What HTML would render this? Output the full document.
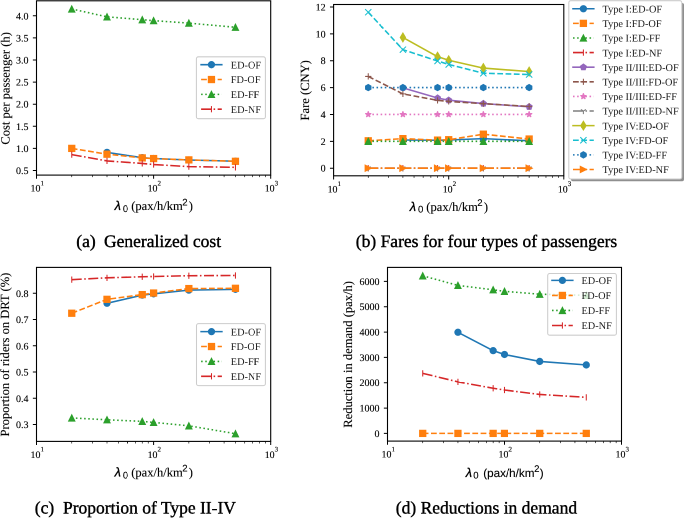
<!DOCTYPE html>
<html><head><meta charset="utf-8"><style>
html,body{margin:0;padding:0;background:#fff;width:685px;height:518px;overflow:hidden}
#w{position:absolute;left:0;top:0;width:1370px;height:1036px;transform-origin:0 0;transform:scale(0.5);will-change:transform}
svg{display:block}
text{text-rendering:geometricPrecision;fill:#000;stroke:#000;stroke-width:0.12px}
.cap{stroke-width:0.4px}
.leg{stroke-width:0;fill:#1a1a1a}
</style></head><body>
<div id="w"><svg width="1370" height="1036" viewBox="0 0 685 518">
<clipPath id="ca"><rect x="36.5" y="0.8" width="234.2" height="174.3"/></clipPath>
<g clip-path="url(#ca)">
<path d="M107 152.38 L142.25 157.68 L153.6 158.48 L188.85 160.02 L235.45 161.22" stroke="#1f77b4" stroke-width="1.56" fill="none" stroke-linejoin="round" stroke-linecap="square"/>
<circle cx="107" cy="152.38" r="3.12" fill="#1f77b4" stroke="#1f77b4" stroke-width="1.04"/>
<circle cx="142.25" cy="157.68" r="3.12" fill="#1f77b4" stroke="#1f77b4" stroke-width="1.04"/>
<circle cx="153.6" cy="158.48" r="3.12" fill="#1f77b4" stroke="#1f77b4" stroke-width="1.04"/>
<circle cx="188.85" cy="160.02" r="3.12" fill="#1f77b4" stroke="#1f77b4" stroke-width="1.04"/>
<circle cx="235.45" cy="161.22" r="3.12" fill="#1f77b4" stroke="#1f77b4" stroke-width="1.04"/>
<path d="M71.75 148.4 L107 154.19 L142.25 157.9 L153.6 158.57 L188.85 159.89 L235.45 161.31" stroke="#ff7f0e" stroke-width="1.56" fill="none" stroke-linejoin="round" stroke-linecap="butt" stroke-dasharray="5.77,2.5"/>
<rect x="68.63" y="145.28" width="6.24" height="6.24" fill="#ff7f0e" stroke="#ff7f0e" stroke-width="1.04" stroke-linejoin="miter"/>
<rect x="103.88" y="151.07" width="6.24" height="6.24" fill="#ff7f0e" stroke="#ff7f0e" stroke-width="1.04" stroke-linejoin="miter"/>
<rect x="139.13" y="154.78" width="6.24" height="6.24" fill="#ff7f0e" stroke="#ff7f0e" stroke-width="1.04" stroke-linejoin="miter"/>
<rect x="150.48" y="155.45" width="6.24" height="6.24" fill="#ff7f0e" stroke="#ff7f0e" stroke-width="1.04" stroke-linejoin="miter"/>
<rect x="185.73" y="156.77" width="6.24" height="6.24" fill="#ff7f0e" stroke="#ff7f0e" stroke-width="1.04" stroke-linejoin="miter"/>
<rect x="232.33" y="158.19" width="6.24" height="6.24" fill="#ff7f0e" stroke="#ff7f0e" stroke-width="1.04" stroke-linejoin="miter"/>
<path d="M71.75 8.99 L107 16.82 L142.25 19.69 L153.6 20.66 L188.85 23.09 L235.45 27.29" stroke="#2ca02c" stroke-width="1.56" fill="none" stroke-linejoin="round" stroke-linecap="butt" stroke-dasharray="1.56,2.57"/>
<polygon points="71.75,5.87 68.63,12.11 74.87,12.11" fill="#2ca02c" stroke="#2ca02c" stroke-width="1.04" stroke-linejoin="miter"/>
<polygon points="107,13.7 103.88,19.94 110.12,19.94" fill="#2ca02c" stroke="#2ca02c" stroke-width="1.04" stroke-linejoin="miter"/>
<polygon points="142.25,16.57 139.13,22.81 145.37,22.81" fill="#2ca02c" stroke="#2ca02c" stroke-width="1.04" stroke-linejoin="miter"/>
<polygon points="153.6,17.54 150.48,23.78 156.72,23.78" fill="#2ca02c" stroke="#2ca02c" stroke-width="1.04" stroke-linejoin="miter"/>
<polygon points="188.85,19.97 185.73,26.21 191.97,26.21" fill="#2ca02c" stroke="#2ca02c" stroke-width="1.04" stroke-linejoin="miter"/>
<polygon points="235.45,24.17 232.33,30.41 238.57,30.41" fill="#2ca02c" stroke="#2ca02c" stroke-width="1.04" stroke-linejoin="miter"/>
<path d="M71.75 154.59 L107 160.91 L142.25 163.43 L153.6 164.53 L188.85 166.61 L235.45 167.32" stroke="#d62728" stroke-width="1.56" fill="none" stroke-linejoin="round" stroke-linecap="butt" stroke-dasharray="9.98,2.5,1.56,2.5"/>
<path d="M71.75 151.47L71.75 157.71" stroke="#d62728" stroke-width="1.04" fill="none"/>
<path d="M107 157.79L107 164.03" stroke="#d62728" stroke-width="1.04" fill="none"/>
<path d="M142.25 160.31L142.25 166.55" stroke="#d62728" stroke-width="1.04" fill="none"/>
<path d="M153.6 161.41L153.6 167.65" stroke="#d62728" stroke-width="1.04" fill="none"/>
<path d="M188.85 163.49L188.85 169.73" stroke="#d62728" stroke-width="1.04" fill="none"/>
<path d="M235.45 164.2L235.45 170.44" stroke="#d62728" stroke-width="1.04" fill="none"/>
</g>
<path d="M36.5 175.1v3.64M153.6 175.1v3.64M270.7 175.1v3.64M36.5 170.5h-3.64M36.5 148.4h-3.64M36.5 126.3h-3.64M36.5 104.2h-3.64M36.5 82.1h-3.64M36.5 60h-3.64M36.5 37.9h-3.64M36.5 15.8h-3.64" stroke="#000" stroke-width="1.0" fill="none"/>
<path d="M71.75 175.1v2.08M92.37 175.1v2.08M107 175.1v2.08M118.35 175.1v2.08M127.62 175.1v2.08M135.46 175.1v2.08M142.25 175.1v2.08M148.24 175.1v2.08M188.85 175.1v2.08M209.47 175.1v2.08M224.1 175.1v2.08M235.45 175.1v2.08M244.72 175.1v2.08M252.56 175.1v2.08M259.35 175.1v2.08M265.34 175.1v2.08" stroke="#000" stroke-width="0.65" fill="none"/>
<rect x="36.5" y="0.8" width="234.2" height="174.3" fill="none" stroke="#000" stroke-width="1.1"/>
<text x="28.56" y="174" font-size="10.0" text-anchor="end" font-family="Liberation Serif">0.5</text>
<text x="28.56" y="151.9" font-size="10.0" text-anchor="end" font-family="Liberation Serif">1.0</text>
<text x="28.56" y="129.8" font-size="10.0" text-anchor="end" font-family="Liberation Serif">1.5</text>
<text x="28.56" y="107.7" font-size="10.0" text-anchor="end" font-family="Liberation Serif">2.0</text>
<text x="28.56" y="85.6" font-size="10.0" text-anchor="end" font-family="Liberation Serif">2.5</text>
<text x="28.56" y="63.5" font-size="10.0" text-anchor="end" font-family="Liberation Serif">3.0</text>
<text x="28.56" y="41.4" font-size="10.0" text-anchor="end" font-family="Liberation Serif">3.5</text>
<text x="28.56" y="19.3" font-size="10.0" text-anchor="end" font-family="Liberation Serif">4.0</text>
<text x="35.45" y="191.7" font-size="9.9" text-anchor="middle" font-family="Liberation Serif">10</text>
<text x="40.45" y="185.4" font-size="7.0" text-anchor="start" font-family="Liberation Serif">1</text>
<text x="152.55" y="191.7" font-size="9.9" text-anchor="middle" font-family="Liberation Serif">10</text>
<text x="157.55" y="185.4" font-size="7.0" text-anchor="start" font-family="Liberation Serif">2</text>
<text x="269.65" y="191.7" font-size="9.9" text-anchor="middle" font-family="Liberation Serif">10</text>
<text x="274.65" y="185.4" font-size="7.0" text-anchor="start" font-family="Liberation Serif">3</text>
<text x="114.6" y="210.1" font-size="12.8" font-family="Liberation Sans" font-style="italic" style="stroke-width:0.3px">λ</text>
<text x="122.9" y="212" font-size="9.6" font-family="Liberation Sans" stroke="#000" stroke-width="0.1">0</text>
<text x="131.2" y="210.1" font-size="12.55" font-family="Liberation Serif">(pax/h/km</text>
<text x="182.2" y="205.3" font-size="9.6" font-family="Liberation Sans" stroke="#000" stroke-width="0.1">2</text>
<text x="188.8" y="210.1" font-size="12.55" font-family="Liberation Serif">)</text>
<text transform="translate(9.4 88.4) rotate(-90)" x="0" y="0" font-size="12.55" text-anchor="middle" font-family="Liberation Serif">Cost per passenger (h)</text>
<rect x="196.4" y="56.8" width="69" height="61.9" rx="2" fill="#fff" fill-opacity="0.8" stroke="#ccc" stroke-width="1.04"/>
<path d="M201.1 64.7 L221.8 64.7" stroke="#1f77b4" stroke-width="1.56" fill="none" stroke-linejoin="round" stroke-linecap="square"/>
<circle cx="211.45" cy="64.7" r="3.12" fill="#1f77b4" stroke="#1f77b4" stroke-width="1.04"/>
<text x="230.8" y="68.4" font-size="10.3" text-anchor="start" font-family="Liberation Serif" class="leg">ED-OF</text>
<path d="M201.1 79.53 L221.8 79.53" stroke="#ff7f0e" stroke-width="1.56" fill="none" stroke-linejoin="round" stroke-linecap="butt" stroke-dasharray="5.77,2.5"/>
<rect x="208.33" y="76.41" width="6.24" height="6.24" fill="#ff7f0e" stroke="#ff7f0e" stroke-width="1.04" stroke-linejoin="miter"/>
<text x="230.8" y="83.23" font-size="10.3" text-anchor="start" font-family="Liberation Serif" class="leg">FD-OF</text>
<path d="M201.1 94.36 L221.8 94.36" stroke="#2ca02c" stroke-width="1.56" fill="none" stroke-linejoin="round" stroke-linecap="butt" stroke-dasharray="1.56,2.57"/>
<polygon points="211.45,91.24 208.33,97.48 214.57,97.48" fill="#2ca02c" stroke="#2ca02c" stroke-width="1.04" stroke-linejoin="miter"/>
<text x="230.8" y="98.06" font-size="10.3" text-anchor="start" font-family="Liberation Serif" class="leg">ED-FF</text>
<path d="M201.1 109.19 L221.8 109.19" stroke="#d62728" stroke-width="1.56" fill="none" stroke-linejoin="round" stroke-linecap="butt" stroke-dasharray="9.98,2.5,1.56,2.5"/>
<path d="M211.45 106.07L211.45 112.31" stroke="#d62728" stroke-width="1.04" fill="none"/>
<text x="230.8" y="112.89" font-size="10.3" text-anchor="start" font-family="Liberation Serif" class="leg">ED-NF</text>
<clipPath id="cb"><rect x="333.6" y="4.5" width="230.2" height="171.3"/></clipPath>
<g clip-path="url(#cb)">
<path d="M402.9 139.98 L437.55 140.25 L448.7 139.98 L483.35 138.64 L529.15 140.79" stroke="#1f77b4" stroke-width="1.56" fill="none" stroke-linejoin="round" stroke-linecap="square"/>
<circle cx="402.9" cy="139.98" r="3.12" fill="#1f77b4" stroke="#1f77b4" stroke-width="1.04"/>
<circle cx="437.55" cy="140.25" r="3.12" fill="#1f77b4" stroke="#1f77b4" stroke-width="1.04"/>
<circle cx="448.7" cy="139.98" r="3.12" fill="#1f77b4" stroke="#1f77b4" stroke-width="1.04"/>
<circle cx="483.35" cy="138.64" r="3.12" fill="#1f77b4" stroke="#1f77b4" stroke-width="1.04"/>
<circle cx="529.15" cy="140.79" r="3.12" fill="#1f77b4" stroke="#1f77b4" stroke-width="1.04"/>
<path d="M368.25 140.79 L402.9 138.64 L437.55 140.12 L448.7 139.71 L483.35 134.2 L529.15 139.04" stroke="#ff7f0e" stroke-width="1.56" fill="none" stroke-linejoin="round" stroke-linecap="butt" stroke-dasharray="5.77,2.5"/>
<rect x="365.13" y="137.67" width="6.24" height="6.24" fill="#ff7f0e" stroke="#ff7f0e" stroke-width="1.04" stroke-linejoin="miter"/>
<rect x="399.78" y="135.52" width="6.24" height="6.24" fill="#ff7f0e" stroke="#ff7f0e" stroke-width="1.04" stroke-linejoin="miter"/>
<rect x="434.43" y="137" width="6.24" height="6.24" fill="#ff7f0e" stroke="#ff7f0e" stroke-width="1.04" stroke-linejoin="miter"/>
<rect x="445.58" y="136.59" width="6.24" height="6.24" fill="#ff7f0e" stroke="#ff7f0e" stroke-width="1.04" stroke-linejoin="miter"/>
<rect x="480.23" y="131.08" width="6.24" height="6.24" fill="#ff7f0e" stroke="#ff7f0e" stroke-width="1.04" stroke-linejoin="miter"/>
<rect x="526.03" y="135.92" width="6.24" height="6.24" fill="#ff7f0e" stroke="#ff7f0e" stroke-width="1.04" stroke-linejoin="miter"/>
<path d="M368.25 141.32 L402.9 141.32 L437.55 141.32 L448.7 141.32 L483.35 141.32 L529.15 141.32" stroke="#2ca02c" stroke-width="1.56" fill="none" stroke-linejoin="round" stroke-linecap="butt" stroke-dasharray="1.56,2.57"/>
<polygon points="368.25,138.2 365.13,144.44 371.37,144.44" fill="#2ca02c" stroke="#2ca02c" stroke-width="1.04" stroke-linejoin="miter"/>
<polygon points="402.9,138.2 399.78,144.44 406.02,144.44" fill="#2ca02c" stroke="#2ca02c" stroke-width="1.04" stroke-linejoin="miter"/>
<polygon points="437.55,138.2 434.43,144.44 440.67,144.44" fill="#2ca02c" stroke="#2ca02c" stroke-width="1.04" stroke-linejoin="miter"/>
<polygon points="448.7,138.2 445.58,144.44 451.82,144.44" fill="#2ca02c" stroke="#2ca02c" stroke-width="1.04" stroke-linejoin="miter"/>
<polygon points="483.35,138.2 480.23,144.44 486.47,144.44" fill="#2ca02c" stroke="#2ca02c" stroke-width="1.04" stroke-linejoin="miter"/>
<polygon points="529.15,138.2 526.03,144.44 532.27,144.44" fill="#2ca02c" stroke="#2ca02c" stroke-width="1.04" stroke-linejoin="miter"/>
<path d="M368.25 168.2 L402.9 168.2 L437.55 168.2 L448.7 168.2 L483.35 168.2 L529.15 168.2" stroke="#d62728" stroke-width="1.56" fill="none" stroke-linejoin="round" stroke-linecap="butt" stroke-dasharray="9.98,2.5,1.56,2.5"/>
<path d="M368.25 165.08L368.25 171.32" stroke="#d62728" stroke-width="1.04" fill="none"/>
<path d="M402.9 165.08L402.9 171.32" stroke="#d62728" stroke-width="1.04" fill="none"/>
<path d="M437.55 165.08L437.55 171.32" stroke="#d62728" stroke-width="1.04" fill="none"/>
<path d="M448.7 165.08L448.7 171.32" stroke="#d62728" stroke-width="1.04" fill="none"/>
<path d="M483.35 165.08L483.35 171.32" stroke="#d62728" stroke-width="1.04" fill="none"/>
<path d="M529.15 165.08L529.15 171.32" stroke="#d62728" stroke-width="1.04" fill="none"/>
<path d="M402.9 87.84 L437.55 98.06 L448.7 100.21 L483.35 103.57 L529.15 106.79" stroke="#9467bd" stroke-width="1.56" fill="none" stroke-linejoin="round" stroke-linecap="square"/>
<polygon points="402.9,84.72 399.93,86.88 401.06,90.37 404.73,90.37 405.86,86.88" fill="#9467bd" stroke="#9467bd" stroke-width="1.04" stroke-linejoin="miter"/>
<polygon points="437.55,94.94 434.58,97.09 435.71,100.58 439.38,100.58 440.51,97.09" fill="#9467bd" stroke="#9467bd" stroke-width="1.04" stroke-linejoin="miter"/>
<polygon points="448.7,97.09 445.73,99.24 446.87,102.73 450.53,102.73 451.67,99.24" fill="#9467bd" stroke="#9467bd" stroke-width="1.04" stroke-linejoin="miter"/>
<polygon points="483.35,100.45 480.38,102.6 481.51,106.09 485.18,106.09 486.32,102.6" fill="#9467bd" stroke="#9467bd" stroke-width="1.04" stroke-linejoin="miter"/>
<polygon points="529.15,103.67 526.18,105.83 527.32,109.31 530.99,109.31 532.12,105.83" fill="#9467bd" stroke="#9467bd" stroke-width="1.04" stroke-linejoin="miter"/>
<path d="M368.25 76.42 L402.9 93.89 L437.55 100.34 L448.7 101.42 L483.35 103.7 L529.15 106.39" stroke="#8c564b" stroke-width="1.56" fill="none" stroke-linejoin="round" stroke-linecap="butt" stroke-dasharray="5.77,2.5"/>
<path d="M365.13 76.42L371.37 76.42M368.25 73.3L368.25 79.54" stroke="#8c564b" stroke-width="1.04" fill="none"/>
<path d="M399.78 93.89L406.02 93.89M402.9 90.77L402.9 97.01" stroke="#8c564b" stroke-width="1.04" fill="none"/>
<path d="M434.43 100.34L440.67 100.34M437.55 97.22L437.55 103.46" stroke="#8c564b" stroke-width="1.04" fill="none"/>
<path d="M445.58 101.42L451.82 101.42M448.7 98.3L448.7 104.54" stroke="#8c564b" stroke-width="1.04" fill="none"/>
<path d="M480.23 103.7L486.47 103.7M483.35 100.58L483.35 106.82" stroke="#8c564b" stroke-width="1.04" fill="none"/>
<path d="M526.03 106.39L532.27 106.39M529.15 103.27L529.15 109.51" stroke="#8c564b" stroke-width="1.04" fill="none"/>
<path d="M368.25 114.45 L402.9 114.45 L437.55 114.45 L448.7 114.45 L483.35 114.45 L529.15 114.45" stroke="#e377c2" stroke-width="1.56" fill="none" stroke-linejoin="round" stroke-linecap="butt" stroke-dasharray="1.56,2.57"/>
<polygon points="368.25,111.33 367.55,113.49 365.28,113.49 367.12,114.82 366.41,116.97 368.25,115.64 370.08,116.97 369.38,114.82 371.22,113.49 368.95,113.49" fill="#e377c2" stroke="#e377c2" stroke-width="1.04" stroke-linejoin="bevel"/>
<polygon points="402.9,111.33 402.2,113.49 399.93,113.49 401.76,114.82 401.06,116.97 402.9,115.64 404.73,116.97 404.03,114.82 405.86,113.49 403.6,113.49" fill="#e377c2" stroke="#e377c2" stroke-width="1.04" stroke-linejoin="bevel"/>
<polygon points="437.55,111.33 436.85,113.49 434.58,113.49 436.41,114.82 435.71,116.97 437.55,115.64 439.38,116.97 438.68,114.82 440.51,113.49 438.25,113.49" fill="#e377c2" stroke="#e377c2" stroke-width="1.04" stroke-linejoin="bevel"/>
<polygon points="448.7,111.33 448,113.49 445.73,113.49 447.57,114.82 446.87,116.97 448.7,115.64 450.53,116.97 449.83,114.82 451.67,113.49 449.4,113.49" fill="#e377c2" stroke="#e377c2" stroke-width="1.04" stroke-linejoin="bevel"/>
<polygon points="483.35,111.33 482.65,113.49 480.38,113.49 482.22,114.82 481.51,116.97 483.35,115.64 485.18,116.97 484.48,114.82 486.32,113.49 484.05,113.49" fill="#e377c2" stroke="#e377c2" stroke-width="1.04" stroke-linejoin="bevel"/>
<polygon points="529.15,111.33 528.45,113.49 526.18,113.49 528.02,114.82 527.32,116.97 529.15,115.64 530.99,116.97 530.28,114.82 532.12,113.49 529.85,113.49" fill="#e377c2" stroke="#e377c2" stroke-width="1.04" stroke-linejoin="bevel"/>
<path d="M368.25 168.2 L402.9 168.2 L437.55 168.2 L448.7 168.2 L483.35 168.2 L529.15 168.2" stroke="#7f7f7f" stroke-width="1.56" fill="none" stroke-linejoin="round" stroke-linecap="butt" stroke-dasharray="9.98,2.5,1.56,2.5"/>
<path d="M368.25 168.2L368.25 171.32M368.25 168.2L370.74 166.64M368.25 168.2L365.75 166.64" stroke="#7f7f7f" stroke-width="1.04" fill="none"/>
<path d="M402.9 168.2L402.9 171.32M402.9 168.2L405.39 166.64M402.9 168.2L400.4 166.64" stroke="#7f7f7f" stroke-width="1.04" fill="none"/>
<path d="M437.55 168.2L437.55 171.32M437.55 168.2L440.04 166.64M437.55 168.2L435.05 166.64" stroke="#7f7f7f" stroke-width="1.04" fill="none"/>
<path d="M448.7 168.2L448.7 171.32M448.7 168.2L451.2 166.64M448.7 168.2L446.2 166.64" stroke="#7f7f7f" stroke-width="1.04" fill="none"/>
<path d="M483.35 168.2L483.35 171.32M483.35 168.2L485.84 166.64M483.35 168.2L480.85 166.64" stroke="#7f7f7f" stroke-width="1.04" fill="none"/>
<path d="M529.15 168.2L529.15 171.32M529.15 168.2L531.65 166.64M529.15 168.2L526.66 166.64" stroke="#7f7f7f" stroke-width="1.04" fill="none"/>
<path d="M402.9 37.45 L437.55 56.67 L448.7 60.3 L483.35 68.09 L529.15 71.58" stroke="#bcbd22" stroke-width="1.56" fill="none" stroke-linejoin="round" stroke-linecap="square"/>
<polygon points="402.9,33.04 405.54,37.45 402.9,41.87 400.25,37.45" fill="#bcbd22" stroke="#bcbd22" stroke-width="1.04" stroke-linejoin="miter"/>
<polygon points="437.55,52.26 440.19,56.67 437.55,61.08 434.9,56.67" fill="#bcbd22" stroke="#bcbd22" stroke-width="1.04" stroke-linejoin="miter"/>
<polygon points="448.7,55.88 451.35,60.3 448.7,64.71 446.05,60.3" fill="#bcbd22" stroke="#bcbd22" stroke-width="1.04" stroke-linejoin="miter"/>
<polygon points="483.35,63.68 486,68.09 483.35,72.5 480.7,68.09" fill="#bcbd22" stroke="#bcbd22" stroke-width="1.04" stroke-linejoin="miter"/>
<polygon points="529.15,67.17 531.8,71.58 529.15,76 526.5,71.58" fill="#bcbd22" stroke="#bcbd22" stroke-width="1.04" stroke-linejoin="miter"/>
<path d="M368.25 12.19 L402.9 49.68 L437.55 60.97 L448.7 64.46 L483.35 73.2 L529.15 74.54" stroke="#17becf" stroke-width="1.56" fill="none" stroke-linejoin="round" stroke-linecap="butt" stroke-dasharray="5.77,2.5"/>
<path d="M365.13 9.07L371.37 15.31M365.13 15.31L371.37 9.07" stroke="#17becf" stroke-width="1.04" fill="none"/>
<path d="M399.78 46.56L406.02 52.8M399.78 52.8L406.02 46.56" stroke="#17becf" stroke-width="1.04" fill="none"/>
<path d="M434.43 57.85L440.67 64.09M434.43 64.09L440.67 57.85" stroke="#17becf" stroke-width="1.04" fill="none"/>
<path d="M445.58 61.34L451.82 67.58M445.58 67.58L451.82 61.34" stroke="#17becf" stroke-width="1.04" fill="none"/>
<path d="M480.23 70.08L486.47 76.32M480.23 76.32L486.47 70.08" stroke="#17becf" stroke-width="1.04" fill="none"/>
<path d="M526.03 71.42L532.27 77.66M526.03 77.66L532.27 71.42" stroke="#17becf" stroke-width="1.04" fill="none"/>
<path d="M368.25 87.58 L402.9 87.58 L437.55 87.58 L448.7 87.58 L483.35 87.58 L529.15 87.58" stroke="#1f77b4" stroke-width="1.56" fill="none" stroke-linejoin="round" stroke-linecap="butt" stroke-dasharray="1.56,2.57"/>
<polygon points="368.25,84.45 365.55,86.02 365.55,89.14 368.25,90.7 370.95,89.14 370.95,86.02" fill="#1f77b4" stroke="#1f77b4" stroke-width="1.04" stroke-linejoin="miter"/>
<polygon points="402.9,84.45 400.2,86.02 400.2,89.14 402.9,90.7 405.6,89.14 405.6,86.02" fill="#1f77b4" stroke="#1f77b4" stroke-width="1.04" stroke-linejoin="miter"/>
<polygon points="437.55,84.45 434.84,86.02 434.84,89.14 437.55,90.7 440.25,89.14 440.25,86.02" fill="#1f77b4" stroke="#1f77b4" stroke-width="1.04" stroke-linejoin="miter"/>
<polygon points="448.7,84.45 446,86.02 446,89.14 448.7,90.7 451.4,89.14 451.4,86.02" fill="#1f77b4" stroke="#1f77b4" stroke-width="1.04" stroke-linejoin="miter"/>
<polygon points="483.35,84.45 480.65,86.02 480.65,89.14 483.35,90.7 486.05,89.14 486.05,86.02" fill="#1f77b4" stroke="#1f77b4" stroke-width="1.04" stroke-linejoin="miter"/>
<polygon points="529.15,84.45 526.45,86.02 526.45,89.14 529.15,90.7 531.85,89.14 531.85,86.02" fill="#1f77b4" stroke="#1f77b4" stroke-width="1.04" stroke-linejoin="miter"/>
<path d="M368.25 168.2 L402.9 168.2 L437.55 168.2 L448.7 168.2 L483.35 168.2 L529.15 168.2" stroke="#ff7f0e" stroke-width="1.56" fill="none" stroke-linejoin="round" stroke-linecap="butt" stroke-dasharray="9.98,2.5,1.56,2.5"/>
<polygon points="371.37,168.2 365.13,165.08 365.13,171.32" fill="#ff7f0e" stroke="#ff7f0e" stroke-width="1.04" stroke-linejoin="miter"/>
<polygon points="406.02,168.2 399.78,165.08 399.78,171.32" fill="#ff7f0e" stroke="#ff7f0e" stroke-width="1.04" stroke-linejoin="miter"/>
<polygon points="440.67,168.2 434.43,165.08 434.43,171.32" fill="#ff7f0e" stroke="#ff7f0e" stroke-width="1.04" stroke-linejoin="miter"/>
<polygon points="451.82,168.2 445.58,165.08 445.58,171.32" fill="#ff7f0e" stroke="#ff7f0e" stroke-width="1.04" stroke-linejoin="miter"/>
<polygon points="486.47,168.2 480.23,165.08 480.23,171.32" fill="#ff7f0e" stroke="#ff7f0e" stroke-width="1.04" stroke-linejoin="miter"/>
<polygon points="532.27,168.2 526.03,165.08 526.03,171.32" fill="#ff7f0e" stroke="#ff7f0e" stroke-width="1.04" stroke-linejoin="miter"/>
</g>
<path d="M333.6 175.8v3.64M448.7 175.8v3.64M563.8 175.8v3.64M333.6 168.2h-3.64M333.6 141.32h-3.64M333.6 114.45h-3.64M333.6 87.58h-3.64M333.6 60.7h-3.64M333.6 33.83h-3.64M333.6 6.95h-3.64" stroke="#000" stroke-width="1.0" fill="none"/>
<path d="M368.25 175.8v2.08M388.52 175.8v2.08M402.9 175.8v2.08M414.05 175.8v2.08M423.17 175.8v2.08M430.87 175.8v2.08M437.55 175.8v2.08M443.43 175.8v2.08M483.35 175.8v2.08M503.62 175.8v2.08M518 175.8v2.08M529.15 175.8v2.08M538.27 175.8v2.08M545.97 175.8v2.08M552.65 175.8v2.08M558.53 175.8v2.08" stroke="#000" stroke-width="0.65" fill="none"/>
<rect x="333.6" y="4.5" width="230.2" height="171.3" fill="none" stroke="#000" stroke-width="1.1"/>
<text x="325.66" y="171.7" font-size="10.0" text-anchor="end" font-family="Liberation Serif">0</text>
<text x="325.66" y="144.82" font-size="10.0" text-anchor="end" font-family="Liberation Serif">2</text>
<text x="325.66" y="117.95" font-size="10.0" text-anchor="end" font-family="Liberation Serif">4</text>
<text x="325.66" y="91.08" font-size="10.0" text-anchor="end" font-family="Liberation Serif">6</text>
<text x="325.66" y="64.2" font-size="10.0" text-anchor="end" font-family="Liberation Serif">8</text>
<text x="325.66" y="37.33" font-size="10.0" text-anchor="end" font-family="Liberation Serif">10</text>
<text x="325.66" y="10.45" font-size="10.0" text-anchor="end" font-family="Liberation Serif">12</text>
<text x="332.55" y="192.4" font-size="9.9" text-anchor="middle" font-family="Liberation Serif">10</text>
<text x="337.55" y="186.1" font-size="7.0" text-anchor="start" font-family="Liberation Serif">1</text>
<text x="447.65" y="192.4" font-size="9.9" text-anchor="middle" font-family="Liberation Serif">10</text>
<text x="452.65" y="186.1" font-size="7.0" text-anchor="start" font-family="Liberation Serif">2</text>
<text x="562.75" y="192.4" font-size="9.9" text-anchor="middle" font-family="Liberation Serif">10</text>
<text x="567.75" y="186.1" font-size="7.0" text-anchor="start" font-family="Liberation Serif">3</text>
<text x="409.7" y="210.8" font-size="12.8" font-family="Liberation Sans" font-style="italic" style="stroke-width:0.3px">λ</text>
<text x="418" y="212.7" font-size="9.6" font-family="Liberation Sans" stroke="#000" stroke-width="0.1">0</text>
<text x="426.3" y="210.8" font-size="12.55" font-family="Liberation Serif">(pax/h/km</text>
<text x="477.3" y="206" font-size="9.6" font-family="Liberation Sans" stroke="#000" stroke-width="0.1">2</text>
<text x="483.9" y="210.8" font-size="12.55" font-family="Liberation Serif">)</text>
<text transform="translate(308.8 90.3) rotate(-90)" x="0" y="0" font-size="12.55" text-anchor="middle" font-family="Liberation Serif">Fare (CNY)</text>
<rect x="571" y="3" width="113" height="178.3" rx="2" fill="#333" fill-opacity="0.55"/>
<rect x="568.8" y="0.7" width="113" height="178.3" rx="2" fill="#fff" fill-opacity="1" stroke="#ccc" stroke-width="1.04"/>
<path d="M573 8.76 L593.8 8.76" stroke="#1f77b4" stroke-width="1.56" fill="none" stroke-linejoin="round" stroke-linecap="square"/>
<circle cx="583.4" cy="8.76" r="3.12" fill="#1f77b4" stroke="#1f77b4" stroke-width="1.04"/>
<text x="602.5" y="12.46" font-size="10.3" text-anchor="start" font-family="Liberation Serif" class="leg">Type I:ED-OF</text>
<path d="M573 23.37 L593.8 23.37" stroke="#ff7f0e" stroke-width="1.56" fill="none" stroke-linejoin="round" stroke-linecap="butt" stroke-dasharray="5.77,2.5"/>
<rect x="580.28" y="20.25" width="6.24" height="6.24" fill="#ff7f0e" stroke="#ff7f0e" stroke-width="1.04" stroke-linejoin="miter"/>
<text x="602.5" y="27.07" font-size="10.3" text-anchor="start" font-family="Liberation Serif" class="leg">Type I:FD-OF</text>
<path d="M573 37.98 L593.8 37.98" stroke="#2ca02c" stroke-width="1.56" fill="none" stroke-linejoin="round" stroke-linecap="butt" stroke-dasharray="1.56,2.57"/>
<polygon points="583.4,34.86 580.28,41.1 586.52,41.1" fill="#2ca02c" stroke="#2ca02c" stroke-width="1.04" stroke-linejoin="miter"/>
<text x="602.5" y="41.68" font-size="10.3" text-anchor="start" font-family="Liberation Serif" class="leg">Type I:ED-FF</text>
<path d="M573 52.59 L593.8 52.59" stroke="#d62728" stroke-width="1.56" fill="none" stroke-linejoin="round" stroke-linecap="butt" stroke-dasharray="9.98,2.5,1.56,2.5"/>
<path d="M583.4 49.47L583.4 55.71" stroke="#d62728" stroke-width="1.04" fill="none"/>
<text x="602.5" y="56.29" font-size="10.3" text-anchor="start" font-family="Liberation Serif" class="leg">Type I:ED-NF</text>
<path d="M573 67.2 L593.8 67.2" stroke="#9467bd" stroke-width="1.56" fill="none" stroke-linejoin="round" stroke-linecap="square"/>
<polygon points="583.4,64.08 580.43,66.24 581.57,69.72 585.23,69.72 586.37,66.24" fill="#9467bd" stroke="#9467bd" stroke-width="1.04" stroke-linejoin="miter"/>
<text x="602.5" y="70.9" font-size="10.3" text-anchor="start" font-family="Liberation Serif" class="leg">Type II/III:ED-OF</text>
<path d="M573 81.81 L593.8 81.81" stroke="#8c564b" stroke-width="1.56" fill="none" stroke-linejoin="round" stroke-linecap="butt" stroke-dasharray="5.77,2.5"/>
<path d="M580.28 81.81L586.52 81.81M583.4 78.69L583.4 84.93" stroke="#8c564b" stroke-width="1.04" fill="none"/>
<text x="602.5" y="85.51" font-size="10.3" text-anchor="start" font-family="Liberation Serif" class="leg">Type II/III:FD-OF</text>
<path d="M573 96.42 L593.8 96.42" stroke="#e377c2" stroke-width="1.56" fill="none" stroke-linejoin="round" stroke-linecap="butt" stroke-dasharray="1.56,2.57"/>
<polygon points="583.4,93.3 582.7,95.46 580.43,95.46 582.27,96.79 581.57,98.94 583.4,97.61 585.23,98.94 584.53,96.79 586.37,95.46 584.1,95.46" fill="#e377c2" stroke="#e377c2" stroke-width="1.04" stroke-linejoin="bevel"/>
<text x="602.5" y="100.12" font-size="10.3" text-anchor="start" font-family="Liberation Serif" class="leg">Type II/III:ED-FF</text>
<path d="M573 111.03 L593.8 111.03" stroke="#7f7f7f" stroke-width="1.56" fill="none" stroke-linejoin="round" stroke-linecap="butt" stroke-dasharray="9.98,2.5,1.56,2.5"/>
<path d="M583.4 111.03L583.4 114.15M583.4 111.03L585.9 109.47M583.4 111.03L580.9 109.47" stroke="#7f7f7f" stroke-width="1.04" fill="none"/>
<text x="602.5" y="114.73" font-size="10.3" text-anchor="start" font-family="Liberation Serif" class="leg">Type II/III:ED-NF</text>
<path d="M573 125.64 L593.8 125.64" stroke="#bcbd22" stroke-width="1.56" fill="none" stroke-linejoin="round" stroke-linecap="square"/>
<polygon points="583.4,121.23 586.05,125.64 583.4,130.05 580.75,125.64" fill="#bcbd22" stroke="#bcbd22" stroke-width="1.04" stroke-linejoin="miter"/>
<text x="602.5" y="129.34" font-size="10.3" text-anchor="start" font-family="Liberation Serif" class="leg">Type IV:ED-OF</text>
<path d="M573 140.25 L593.8 140.25" stroke="#17becf" stroke-width="1.56" fill="none" stroke-linejoin="round" stroke-linecap="butt" stroke-dasharray="5.77,2.5"/>
<path d="M580.28 137.13L586.52 143.37M580.28 143.37L586.52 137.13" stroke="#17becf" stroke-width="1.04" fill="none"/>
<text x="602.5" y="143.95" font-size="10.3" text-anchor="start" font-family="Liberation Serif" class="leg">Type IV:FD-OF</text>
<path d="M573 154.86 L593.8 154.86" stroke="#1f77b4" stroke-width="1.56" fill="none" stroke-linejoin="round" stroke-linecap="butt" stroke-dasharray="1.56,2.57"/>
<polygon points="583.4,151.74 580.7,153.3 580.7,156.42 583.4,157.98 586.1,156.42 586.1,153.3" fill="#1f77b4" stroke="#1f77b4" stroke-width="1.04" stroke-linejoin="miter"/>
<text x="602.5" y="158.56" font-size="10.3" text-anchor="start" font-family="Liberation Serif" class="leg">Type IV:ED-FF</text>
<path d="M573 169.47 L593.8 169.47" stroke="#ff7f0e" stroke-width="1.56" fill="none" stroke-linejoin="round" stroke-linecap="butt" stroke-dasharray="9.98,2.5,1.56,2.5"/>
<polygon points="586.52,169.47 580.28,166.35 580.28,172.59" fill="#ff7f0e" stroke="#ff7f0e" stroke-width="1.04" stroke-linejoin="miter"/>
<text x="602.5" y="173.17" font-size="10.3" text-anchor="start" font-family="Liberation Serif" class="leg">Type IV:ED-NF</text>
<clipPath id="cc"><rect x="36.5" y="267.4" width="234.2" height="174"/></clipPath>
<g clip-path="url(#cc)">
<path d="M107 303.27 L142.25 295.14 L153.6 293.82 L188.85 290.15 L235.45 289.36" stroke="#1f77b4" stroke-width="1.56" fill="none" stroke-linejoin="round" stroke-linecap="square"/>
<circle cx="107" cy="303.27" r="3.12" fill="#1f77b4" stroke="#1f77b4" stroke-width="1.04"/>
<circle cx="142.25" cy="295.14" r="3.12" fill="#1f77b4" stroke="#1f77b4" stroke-width="1.04"/>
<circle cx="153.6" cy="293.82" r="3.12" fill="#1f77b4" stroke="#1f77b4" stroke-width="1.04"/>
<circle cx="188.85" cy="290.15" r="3.12" fill="#1f77b4" stroke="#1f77b4" stroke-width="1.04"/>
<circle cx="235.45" cy="289.36" r="3.12" fill="#1f77b4" stroke="#1f77b4" stroke-width="1.04"/>
<path d="M71.75 313.24 L107 299.34 L142.25 294.61 L153.6 293.04 L188.85 288.58 L235.45 288.31" stroke="#ff7f0e" stroke-width="1.56" fill="none" stroke-linejoin="round" stroke-linecap="butt" stroke-dasharray="5.77,2.5"/>
<rect x="68.63" y="310.12" width="6.24" height="6.24" fill="#ff7f0e" stroke="#ff7f0e" stroke-width="1.04" stroke-linejoin="miter"/>
<rect x="103.88" y="296.22" width="6.24" height="6.24" fill="#ff7f0e" stroke="#ff7f0e" stroke-width="1.04" stroke-linejoin="miter"/>
<rect x="139.13" y="291.49" width="6.24" height="6.24" fill="#ff7f0e" stroke="#ff7f0e" stroke-width="1.04" stroke-linejoin="miter"/>
<rect x="150.48" y="289.92" width="6.24" height="6.24" fill="#ff7f0e" stroke="#ff7f0e" stroke-width="1.04" stroke-linejoin="miter"/>
<rect x="185.73" y="285.46" width="6.24" height="6.24" fill="#ff7f0e" stroke="#ff7f0e" stroke-width="1.04" stroke-linejoin="miter"/>
<rect x="232.33" y="285.19" width="6.24" height="6.24" fill="#ff7f0e" stroke="#ff7f0e" stroke-width="1.04" stroke-linejoin="miter"/>
<path d="M71.75 417.94 L107 419.78 L142.25 421.35 L153.6 422.4 L188.85 425.81 L235.45 433.68" stroke="#2ca02c" stroke-width="1.56" fill="none" stroke-linejoin="round" stroke-linecap="butt" stroke-dasharray="1.56,2.57"/>
<polygon points="71.75,414.82 68.63,421.06 74.87,421.06" fill="#2ca02c" stroke="#2ca02c" stroke-width="1.04" stroke-linejoin="miter"/>
<polygon points="107,416.66 103.88,422.9 110.12,422.9" fill="#2ca02c" stroke="#2ca02c" stroke-width="1.04" stroke-linejoin="miter"/>
<polygon points="142.25,418.23 139.13,424.47 145.37,424.47" fill="#2ca02c" stroke="#2ca02c" stroke-width="1.04" stroke-linejoin="miter"/>
<polygon points="153.6,419.28 150.48,425.52 156.72,425.52" fill="#2ca02c" stroke="#2ca02c" stroke-width="1.04" stroke-linejoin="miter"/>
<polygon points="188.85,422.69 185.73,428.93 191.97,428.93" fill="#2ca02c" stroke="#2ca02c" stroke-width="1.04" stroke-linejoin="miter"/>
<polygon points="235.45,430.56 232.33,436.8 238.57,436.8" fill="#2ca02c" stroke="#2ca02c" stroke-width="1.04" stroke-linejoin="miter"/>
<path d="M71.75 279.66 L107 277.82 L142.25 276.77 L153.6 276.51 L188.85 275.72 L235.45 275.46" stroke="#d62728" stroke-width="1.56" fill="none" stroke-linejoin="round" stroke-linecap="butt" stroke-dasharray="9.98,2.5,1.56,2.5"/>
<path d="M71.75 276.54L71.75 282.78" stroke="#d62728" stroke-width="1.04" fill="none"/>
<path d="M107 274.7L107 280.94" stroke="#d62728" stroke-width="1.04" fill="none"/>
<path d="M142.25 273.65L142.25 279.89" stroke="#d62728" stroke-width="1.04" fill="none"/>
<path d="M153.6 273.39L153.6 279.63" stroke="#d62728" stroke-width="1.04" fill="none"/>
<path d="M188.85 272.6L188.85 278.84" stroke="#d62728" stroke-width="1.04" fill="none"/>
<path d="M235.45 272.34L235.45 278.58" stroke="#d62728" stroke-width="1.04" fill="none"/>
</g>
<path d="M36.5 441.4v3.64M153.6 441.4v3.64M270.7 441.4v3.64M36.5 424.5h-3.64M36.5 398.26h-3.64M36.5 372.02h-3.64M36.5 345.78h-3.64M36.5 319.54h-3.64M36.5 293.3h-3.64" stroke="#000" stroke-width="1.0" fill="none"/>
<path d="M71.75 441.4v2.08M92.37 441.4v2.08M107 441.4v2.08M118.35 441.4v2.08M127.62 441.4v2.08M135.46 441.4v2.08M142.25 441.4v2.08M148.24 441.4v2.08M188.85 441.4v2.08M209.47 441.4v2.08M224.1 441.4v2.08M235.45 441.4v2.08M244.72 441.4v2.08M252.56 441.4v2.08M259.35 441.4v2.08M265.34 441.4v2.08" stroke="#000" stroke-width="0.65" fill="none"/>
<rect x="36.5" y="267.4" width="234.2" height="174" fill="none" stroke="#000" stroke-width="1.1"/>
<text x="28.56" y="428" font-size="10.0" text-anchor="end" font-family="Liberation Serif">0.3</text>
<text x="28.56" y="401.76" font-size="10.0" text-anchor="end" font-family="Liberation Serif">0.4</text>
<text x="28.56" y="375.52" font-size="10.0" text-anchor="end" font-family="Liberation Serif">0.5</text>
<text x="28.56" y="349.28" font-size="10.0" text-anchor="end" font-family="Liberation Serif">0.6</text>
<text x="28.56" y="323.04" font-size="10.0" text-anchor="end" font-family="Liberation Serif">0.7</text>
<text x="28.56" y="296.8" font-size="10.0" text-anchor="end" font-family="Liberation Serif">0.8</text>
<text x="35.45" y="458" font-size="9.9" text-anchor="middle" font-family="Liberation Serif">10</text>
<text x="40.45" y="451.7" font-size="7.0" text-anchor="start" font-family="Liberation Serif">1</text>
<text x="152.55" y="458" font-size="9.9" text-anchor="middle" font-family="Liberation Serif">10</text>
<text x="157.55" y="451.7" font-size="7.0" text-anchor="start" font-family="Liberation Serif">2</text>
<text x="269.65" y="458" font-size="9.9" text-anchor="middle" font-family="Liberation Serif">10</text>
<text x="274.65" y="451.7" font-size="7.0" text-anchor="start" font-family="Liberation Serif">3</text>
<text x="114.6" y="476.4" font-size="12.8" font-family="Liberation Sans" font-style="italic" style="stroke-width:0.3px">λ</text>
<text x="122.9" y="478.3" font-size="9.6" font-family="Liberation Sans" stroke="#000" stroke-width="0.1">0</text>
<text x="131.2" y="476.4" font-size="12.55" font-family="Liberation Serif">(pax/h/km</text>
<text x="182.2" y="471.6" font-size="9.6" font-family="Liberation Sans" stroke="#000" stroke-width="0.1">2</text>
<text x="188.8" y="476.4" font-size="12.55" font-family="Liberation Serif">)</text>
<text transform="translate(9.1 354.6) rotate(-90)" x="0" y="0" font-size="12.55" text-anchor="middle" font-family="Liberation Serif">Proportion of riders on DRT (%)</text>
<rect x="196.5" y="323.6" width="68.9" height="62" rx="2" fill="#fff" fill-opacity="0.8" stroke="#ccc" stroke-width="1.04"/>
<path d="M201.1 331.65 L221.9 331.65" stroke="#1f77b4" stroke-width="1.56" fill="none" stroke-linejoin="round" stroke-linecap="square"/>
<circle cx="211.5" cy="331.65" r="3.12" fill="#1f77b4" stroke="#1f77b4" stroke-width="1.04"/>
<text x="230.8" y="335.35" font-size="10.3" text-anchor="start" font-family="Liberation Serif" class="leg">ED-OF</text>
<path d="M201.1 346.53 L221.9 346.53" stroke="#ff7f0e" stroke-width="1.56" fill="none" stroke-linejoin="round" stroke-linecap="butt" stroke-dasharray="5.77,2.5"/>
<rect x="208.38" y="343.41" width="6.24" height="6.24" fill="#ff7f0e" stroke="#ff7f0e" stroke-width="1.04" stroke-linejoin="miter"/>
<text x="230.8" y="350.23" font-size="10.3" text-anchor="start" font-family="Liberation Serif" class="leg">FD-OF</text>
<path d="M201.1 361.41 L221.9 361.41" stroke="#2ca02c" stroke-width="1.56" fill="none" stroke-linejoin="round" stroke-linecap="butt" stroke-dasharray="1.56,2.57"/>
<polygon points="211.5,358.29 208.38,364.53 214.62,364.53" fill="#2ca02c" stroke="#2ca02c" stroke-width="1.04" stroke-linejoin="miter"/>
<text x="230.8" y="365.11" font-size="10.3" text-anchor="start" font-family="Liberation Serif" class="leg">ED-FF</text>
<path d="M201.1 376.29 L221.9 376.29" stroke="#d62728" stroke-width="1.56" fill="none" stroke-linejoin="round" stroke-linecap="butt" stroke-dasharray="9.98,2.5,1.56,2.5"/>
<path d="M211.5 373.17L211.5 379.41" stroke="#d62728" stroke-width="1.04" fill="none"/>
<text x="230.8" y="379.99" font-size="10.3" text-anchor="start" font-family="Liberation Serif" class="leg">ED-NF</text>
<clipPath id="cd"><rect x="387.5" y="267.4" width="234" height="173.7"/></clipPath>
<g clip-path="url(#cd)">
<path d="M457.94 332.27 L493.16 350.66 L504.5 354.46 L539.72 361.45 L586.28 364.95" stroke="#1f77b4" stroke-width="1.56" fill="none" stroke-linejoin="round" stroke-linecap="square"/>
<circle cx="457.94" cy="332.27" r="3.12" fill="#1f77b4" stroke="#1f77b4" stroke-width="1.04"/>
<circle cx="493.16" cy="350.66" r="3.12" fill="#1f77b4" stroke="#1f77b4" stroke-width="1.04"/>
<circle cx="504.5" cy="354.46" r="3.12" fill="#1f77b4" stroke="#1f77b4" stroke-width="1.04"/>
<circle cx="539.72" cy="361.45" r="3.12" fill="#1f77b4" stroke="#1f77b4" stroke-width="1.04"/>
<circle cx="586.28" cy="364.95" r="3.12" fill="#1f77b4" stroke="#1f77b4" stroke-width="1.04"/>
<path d="M422.72 433.4 L457.94 433.4 L493.16 433.4 L504.5 433.4 L539.72 433.4 L586.28 433.4" stroke="#ff7f0e" stroke-width="1.56" fill="none" stroke-linejoin="round" stroke-linecap="butt" stroke-dasharray="5.77,2.5"/>
<rect x="419.6" y="430.28" width="6.24" height="6.24" fill="#ff7f0e" stroke="#ff7f0e" stroke-width="1.04" stroke-linejoin="miter"/>
<rect x="454.82" y="430.28" width="6.24" height="6.24" fill="#ff7f0e" stroke="#ff7f0e" stroke-width="1.04" stroke-linejoin="miter"/>
<rect x="490.04" y="430.28" width="6.24" height="6.24" fill="#ff7f0e" stroke="#ff7f0e" stroke-width="1.04" stroke-linejoin="miter"/>
<rect x="501.38" y="430.28" width="6.24" height="6.24" fill="#ff7f0e" stroke="#ff7f0e" stroke-width="1.04" stroke-linejoin="miter"/>
<rect x="536.6" y="430.28" width="6.24" height="6.24" fill="#ff7f0e" stroke="#ff7f0e" stroke-width="1.04" stroke-linejoin="miter"/>
<rect x="583.16" y="430.28" width="6.24" height="6.24" fill="#ff7f0e" stroke="#ff7f0e" stroke-width="1.04" stroke-linejoin="miter"/>
<path d="M422.72 275.8 L457.94 285.4 L493.16 289.79 L504.5 291.31 L539.72 294.19 L586.28 295.33" stroke="#2ca02c" stroke-width="1.56" fill="none" stroke-linejoin="round" stroke-linecap="butt" stroke-dasharray="1.56,2.57"/>
<polygon points="422.72,272.68 419.6,278.92 425.84,278.92" fill="#2ca02c" stroke="#2ca02c" stroke-width="1.04" stroke-linejoin="miter"/>
<polygon points="457.94,282.28 454.82,288.52 461.06,288.52" fill="#2ca02c" stroke="#2ca02c" stroke-width="1.04" stroke-linejoin="miter"/>
<polygon points="493.16,286.67 490.04,292.91 496.28,292.91" fill="#2ca02c" stroke="#2ca02c" stroke-width="1.04" stroke-linejoin="miter"/>
<polygon points="504.5,288.19 501.38,294.43 507.62,294.43" fill="#2ca02c" stroke="#2ca02c" stroke-width="1.04" stroke-linejoin="miter"/>
<polygon points="539.72,291.07 536.6,297.31 542.84,297.31" fill="#2ca02c" stroke="#2ca02c" stroke-width="1.04" stroke-linejoin="miter"/>
<polygon points="586.28,292.21 583.16,298.45 589.4,298.45" fill="#2ca02c" stroke="#2ca02c" stroke-width="1.04" stroke-linejoin="miter"/>
<path d="M422.72 373.33 L457.94 381.85 L493.16 388.23 L504.5 390.03 L539.72 394.44 L586.28 397.33" stroke="#d62728" stroke-width="1.56" fill="none" stroke-linejoin="round" stroke-linecap="butt" stroke-dasharray="9.98,2.5,1.56,2.5"/>
<path d="M422.72 370.21L422.72 376.45" stroke="#d62728" stroke-width="1.04" fill="none"/>
<path d="M457.94 378.73L457.94 384.97" stroke="#d62728" stroke-width="1.04" fill="none"/>
<path d="M493.16 385.11L493.16 391.35" stroke="#d62728" stroke-width="1.04" fill="none"/>
<path d="M504.5 386.91L504.5 393.15" stroke="#d62728" stroke-width="1.04" fill="none"/>
<path d="M539.72 391.32L539.72 397.56" stroke="#d62728" stroke-width="1.04" fill="none"/>
<path d="M586.28 394.21L586.28 400.45" stroke="#d62728" stroke-width="1.04" fill="none"/>
</g>
<path d="M387.5 441.1v3.64M504.5 441.1v3.64M621.5 441.1v3.64M387.5 433.4h-3.64M387.5 408.07h-3.64M387.5 382.73h-3.64M387.5 357.4h-3.64M387.5 332.07h-3.64M387.5 306.73h-3.64M387.5 281.4h-3.64" stroke="#000" stroke-width="1.0" fill="none"/>
<path d="M422.72 441.1v2.08M443.32 441.1v2.08M457.94 441.1v2.08M469.28 441.1v2.08M478.54 441.1v2.08M486.38 441.1v2.08M493.16 441.1v2.08M499.15 441.1v2.08M539.72 441.1v2.08M560.32 441.1v2.08M574.94 441.1v2.08M586.28 441.1v2.08M595.54 441.1v2.08M603.38 441.1v2.08M610.16 441.1v2.08M616.15 441.1v2.08" stroke="#000" stroke-width="0.65" fill="none"/>
<rect x="387.5" y="267.4" width="234" height="173.7" fill="none" stroke="#000" stroke-width="1.1"/>
<text x="379.56" y="436.9" font-size="10.0" text-anchor="end" font-family="Liberation Serif">0</text>
<text x="379.56" y="411.57" font-size="10.0" text-anchor="end" font-family="Liberation Serif">1000</text>
<text x="379.56" y="386.23" font-size="10.0" text-anchor="end" font-family="Liberation Serif">2000</text>
<text x="379.56" y="360.9" font-size="10.0" text-anchor="end" font-family="Liberation Serif">3000</text>
<text x="379.56" y="335.57" font-size="10.0" text-anchor="end" font-family="Liberation Serif">4000</text>
<text x="379.56" y="310.23" font-size="10.0" text-anchor="end" font-family="Liberation Serif">5000</text>
<text x="379.56" y="284.9" font-size="10.0" text-anchor="end" font-family="Liberation Serif">6000</text>
<text x="386.45" y="457.7" font-size="9.9" text-anchor="middle" font-family="Liberation Serif">10</text>
<text x="391.45" y="451.4" font-size="7.0" text-anchor="start" font-family="Liberation Serif">1</text>
<text x="503.45" y="457.7" font-size="9.9" text-anchor="middle" font-family="Liberation Serif">10</text>
<text x="508.45" y="451.4" font-size="7.0" text-anchor="start" font-family="Liberation Serif">2</text>
<text x="620.45" y="457.7" font-size="9.9" text-anchor="middle" font-family="Liberation Serif">10</text>
<text x="625.45" y="451.4" font-size="7.0" text-anchor="start" font-family="Liberation Serif">3</text>
<text x="465.7" y="476.8" font-size="12.8" font-family="Liberation Sans" font-style="italic" style="stroke-width:0.3px">λ</text>
<text x="473.3" y="478.7" font-size="9.6" font-family="Liberation Sans" stroke="#000" stroke-width="0.1">0</text>
<text x="483.3" y="476.8" font-size="11.65" font-family="Liberation Sans">(pax/h/km</text>
<text x="534.1" y="472" font-size="9.6" font-family="Liberation Sans" stroke="#000" stroke-width="0.1">2</text>
<text x="539.8" y="476.8" font-size="11.65" font-family="Liberation Sans">)</text>
<text transform="translate(351.9 354.4) rotate(-90)" x="0" y="0" font-size="12.55" text-anchor="middle" font-family="Liberation Serif">Reduction in demand (pax/h)</text>
<rect x="547.7" y="273.5" width="68.7" height="61.7" rx="2" fill="#fff" fill-opacity="0.8" stroke="#ccc" stroke-width="1.04"/>
<path d="M552 280.4 L572.8 280.4" stroke="#1f77b4" stroke-width="1.56" fill="none" stroke-linejoin="round" stroke-linecap="square"/>
<circle cx="562.4" cy="280.4" r="3.12" fill="#1f77b4" stroke="#1f77b4" stroke-width="1.04"/>
<text x="581.5" y="284.1" font-size="10.3" text-anchor="start" font-family="Liberation Serif" class="leg">ED-OF</text>
<path d="M552 295.43 L572.8 295.43" stroke="#ff7f0e" stroke-width="1.56" fill="none" stroke-linejoin="round" stroke-linecap="butt" stroke-dasharray="5.77,2.5"/>
<rect x="559.28" y="292.31" width="6.24" height="6.24" fill="#ff7f0e" stroke="#ff7f0e" stroke-width="1.04" stroke-linejoin="miter"/>
<text x="581.5" y="299.13" font-size="10.3" text-anchor="start" font-family="Liberation Serif" class="leg">FD-OF</text>
<path d="M552 310.46 L572.8 310.46" stroke="#2ca02c" stroke-width="1.56" fill="none" stroke-linejoin="round" stroke-linecap="butt" stroke-dasharray="1.56,2.57"/>
<polygon points="562.4,307.34 559.28,313.58 565.52,313.58" fill="#2ca02c" stroke="#2ca02c" stroke-width="1.04" stroke-linejoin="miter"/>
<text x="581.5" y="314.16" font-size="10.3" text-anchor="start" font-family="Liberation Serif" class="leg">ED-FF</text>
<path d="M552 325.49 L572.8 325.49" stroke="#d62728" stroke-width="1.56" fill="none" stroke-linejoin="round" stroke-linecap="butt" stroke-dasharray="9.98,2.5,1.56,2.5"/>
<path d="M562.4 322.37L562.4 328.61" stroke="#d62728" stroke-width="1.04" fill="none"/>
<text x="581.5" y="329.19" font-size="10.3" text-anchor="start" font-family="Liberation Serif" class="leg">ED-NF</text>
<text x="76.3" y="246.8" font-size="17.5" text-anchor="start" font-family="Liberation Serif" class="cap">(a)</text>
<text x="104" y="246.8" font-size="17.5" text-anchor="start" font-family="Liberation Serif" class="cap">Generalized cost</text>
<text x="355.8" y="246.8" font-size="17.5" text-anchor="start" font-family="Liberation Serif" class="cap">(b) Fares for four types of passengers</text>
<text x="34.8" y="513.4" font-size="17.5" text-anchor="start" font-family="Liberation Serif" class="cap">(c)</text>
<text x="63" y="513.4" font-size="17.5" text-anchor="start" font-family="Liberation Serif" class="cap">Proportion of Type II-IV</text>
<text x="395.8" y="513.4" font-size="17.5" text-anchor="start" font-family="Liberation Serif" class="cap">(d) Reductions in demand</text>
</svg></div>
</body></html>
